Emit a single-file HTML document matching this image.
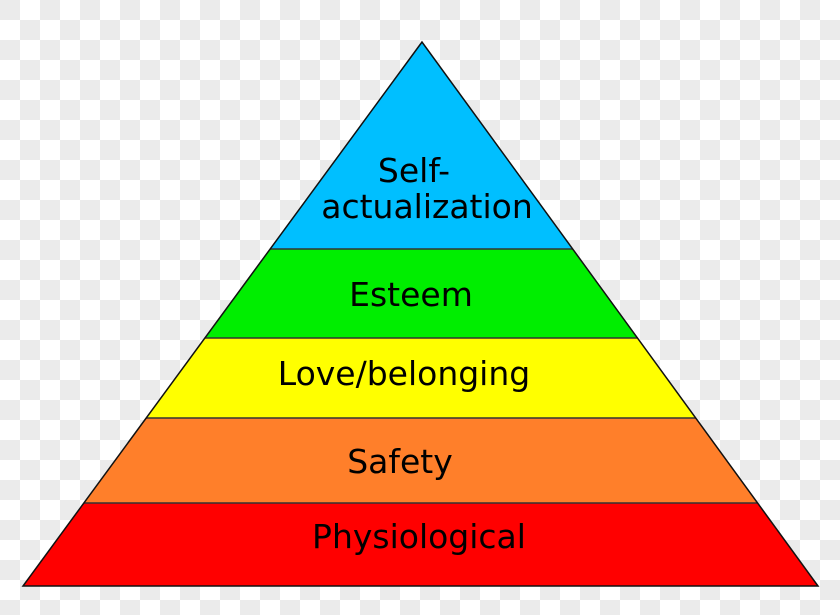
<!DOCTYPE html>
<html><head><meta charset="utf-8"><style>
html,body{margin:0;padding:0;width:840px;height:615px;overflow:hidden;}
body{background-color:#fff;background-image:linear-gradient(45deg,#ebebeb 25%,transparent 25%,transparent 75%,#ebebeb 75%),linear-gradient(45deg,#ebebeb 25%,transparent 25%,transparent 75%,#ebebeb 75%);background-size:40px 40px;background-position:20px 0,0 20px;}
svg{position:absolute;left:0;top:0;}
text{font-family:"DejaVu Sans","Liberation Sans",sans-serif;font-size:33px;fill:#000;text-anchor:middle;}
</style></head><body>
<svg width="840" height="615" viewBox="0 0 840 615">
<defs><clipPath id="c"><polygon points="422,42 23,586 818,586"/></clipPath></defs>
<g clip-path="url(#c)">
<rect x="0" y="0" width="840" height="249" fill="#00bfff"/>
<rect x="0" y="249" width="840" height="89" fill="#00ee00"/>
<rect x="0" y="338" width="840" height="80" fill="#ffff00"/>
<rect x="0" y="418" width="840" height="85" fill="#ff7f2a"/>
<rect x="0" y="503" width="840" height="83" fill="#ff0000"/>
<g stroke="#333" stroke-width="1.5">
<line x1="0" y1="249" x2="840" y2="249"/>
<line x1="0" y1="338" x2="840" y2="338"/>
<line x1="0" y1="418" x2="840" y2="418"/>
<line x1="0" y1="503" x2="840" y2="503"/>
</g>
</g>
<polygon points="422,42 23,586 818,586" fill="none" stroke="#111" stroke-width="1.5"/>
<text x="414" y="182">Self-</text>
<text x="427" y="218">actualization</text>
<text x="411" y="306">Esteem</text>
<text x="404" y="385">Love/belonging</text>
<text x="400" y="473">Safety</text>
<text x="419" y="548">Physiological</text>
</svg>
</body></html>
